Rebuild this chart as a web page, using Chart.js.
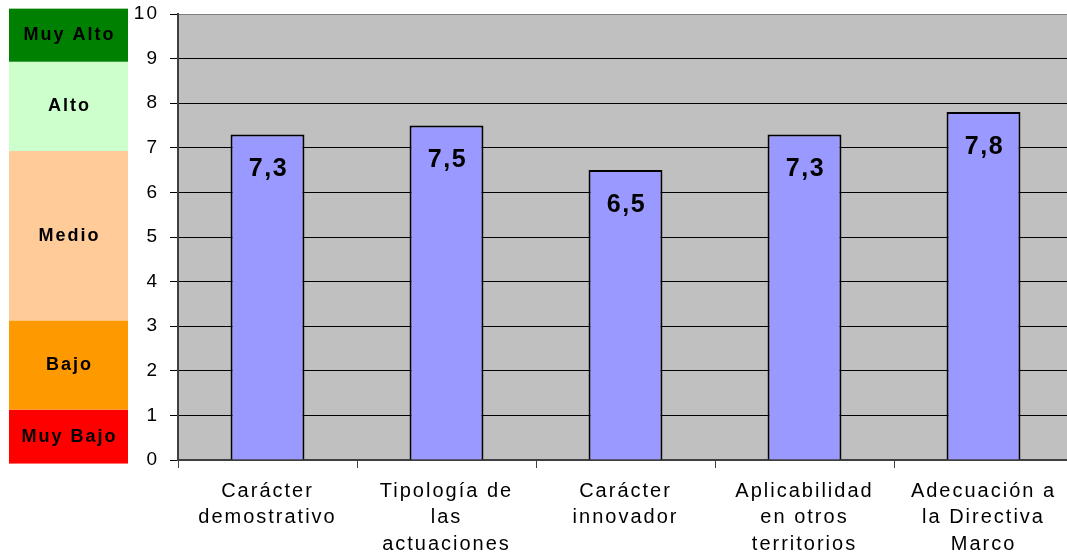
<!DOCTYPE html>
<html lang="es">
<head>
<meta charset="utf-8">
<title>Valoración</title>
<script src="https://cdn.jsdelivr.net/npm/chart.js@4.4.1/dist/chart.umd.min.js"></script>
<style>
    html, body { margin: 0; padding: 0; background: #ffffff; overflow: hidden; }
    #wrap { position: absolute; left: 0; top: 0; width: 1075px; height: 555px; }
</style>
</head>
<body>
<div id="wrap"><canvas id="chart"></canvas></div>
<script>
// Criterios valorados (eje X)
const categories = [
    ['Carácter', 'demostrativo'],
    ['Tipología de', 'las', 'actuaciones'],
    ['Carácter', 'innovador'],
    ['Aplicabilidad', 'en otros', 'territorios'],
    ['Adecuación a', 'la Directiva', 'Marco']
];
const scores = [7.3, 7.5, 6.5, 7.3, 7.8];

// Escala de valoración (leyenda lateral), límites en unidades del eje Y
const bandNames = ['Muy Bajo', 'Bajo', 'Medio', 'Alto', 'Muy Alto'];
const bandLimits = [-0.08, 1.13, 3.13, 6.93, 8.93, 10.12];
const bandColors = ['#ff0000', '#ff9900', '#ffcc99', '#ccffcc', '#008000'];

const FONT = '"Liberation Sans", Arial, sans-serif';

// Fondo gris del área de trazado y bandas de la escala
const backgroundPlugin = {
    id: 'background',
    beforeDraw(chart) {
        const ctx = chart.ctx;
        const area = chart.chartArea;
        const y = chart.scales.y;
        ctx.letterSpacing = '2px';

        ctx.save();
        ctx.fillStyle = '#c0c0c0';
        ctx.fillRect(area.left, area.top, area.right - area.left, area.bottom - area.top);

        const bandLeft = 9, bandRight = 128;
        ctx.font = 'bold 18px ' + FONT;
        ctx.textAlign = 'center';
        ctx.textBaseline = 'middle';
        bandNames.forEach((name, i) => {
            const y0 = y.getPixelForValue(bandLimits[i]);
            const y1 = y.getPixelForValue(bandLimits[i + 1]);
            ctx.fillStyle = bandColors[i];
            ctx.fillRect(bandLeft, y1, bandRight - bandLeft, y0 - y1);
            ctx.fillStyle = '#000000';
            ctx.fillText(name, (bandLeft + bandRight) / 2 + 1, (y0 + y1) / 2);
        });
        ctx.restore();
    }
};

// Etiquetas de valor dentro de cada barra
const valueLabelPlugin = {
    id: 'valueLabels',
    afterDatasetsDraw(chart) {
        const ctx = chart.ctx;
        const meta = chart.getDatasetMeta(0);
        ctx.save();
        ctx.letterSpacing = '1.5px';
        ctx.font = 'bold 25px ' + FONT;
        ctx.fillStyle = '#000000';
        ctx.textAlign = 'center';
        ctx.textBaseline = 'middle';
        meta.data.forEach((bar, i) => {
            const text = scores[i].toFixed(1).replace('.', ',');
            ctx.fillText(text, bar.x + 1, bar.y + 35);
        });
        ctx.restore();
    }
};

new Chart(document.getElementById('chart'), {
    type: 'bar',
    data: {
        labels: categories,
        datasets: [{
            data: scores,
            backgroundColor: '#9999ff',
            borderColor: '#000000',
            borderWidth: 2,
            barPercentage: 0.413,
            categoryPercentage: 1.0
        }]
    },
    options: {
        responsive: true,
        maintainAspectRatio: false,
        animation: false,
        layout: { padding: { top: 14, left: 0, right: 2, bottom: 0 } },
        plugins: {
            legend: { display: false },
            tooltip: { enabled: false }
        },
        scales: {
            x: {
                offset: true,
                grid: {
                    offset: true,
                    drawOnChartArea: false,
                    tickLength: 8,
                    color: '#404040'
                },
                border: { color: '#404040', width: 2 },
                ticks: {
                    color: '#000000',
                    padding: 10,
                    maxRotation: 0,
                    autoSkip: false,
                    font: { family: FONT, size: 20, lineHeight: 1.33 }
                },
                afterFit(scale) { scale.height = 95; }
            },
            y: {
                min: 0,
                max: 10,
                ticks: {
                    stepSize: 1,
                    color: '#000000',
                    padding: 11,
                    font: { family: FONT, size: 19 }
                },
                grid: {
                    color: (c) => (c.tick && c.tick.value === 10 ? '#808080' : '#000000'),
                    tickColor: '#000000',
                    tickLength: 8,
                    lineWidth: 1
                },
                border: { color: '#404040', width: 2 },
                afterFit(scale) {
                    scale.width = 178;
                    scale.paddingTop = 0;
                    scale.paddingBottom = 0;
                }
            }
        }
    },
    plugins: [backgroundPlugin, valueLabelPlugin]
});
</script>
</body>
</html>
